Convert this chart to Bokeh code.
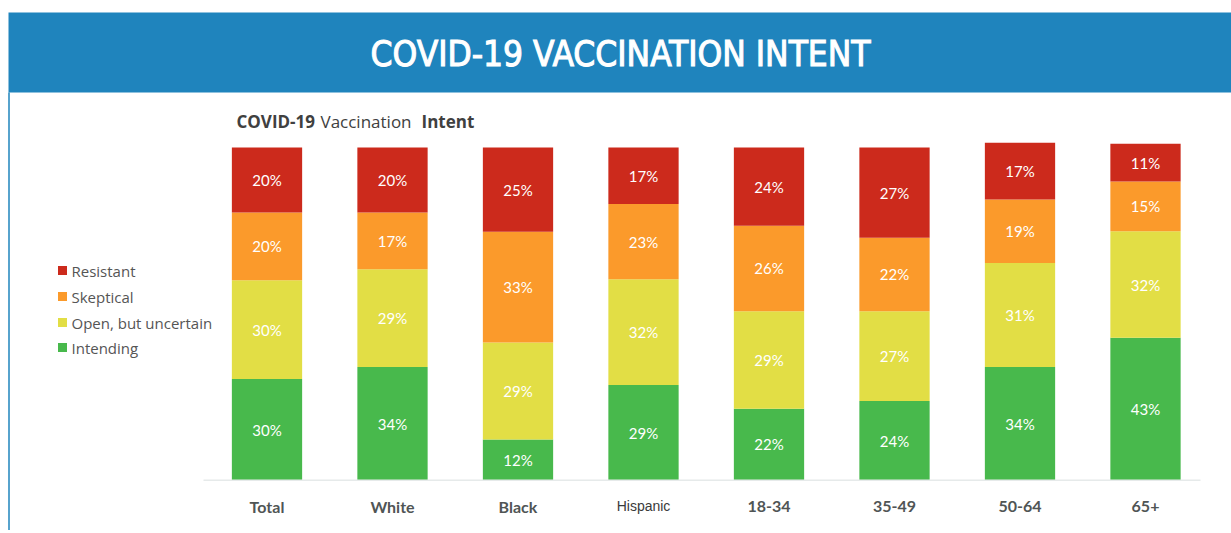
from bokeh.plotting import figure
from bokeh.models import ColumnDataSource, Range1d
from bokeh.core.properties import value
from bokeh.embed import file_html
from bokeh.resources import INLINE

# ---------------- data (percent; labels are rounded) ----------------
categories = ["Total", "White", "Black", "Hispanic", "18-34", "35-49", "50-64", "65+"]
intending = [30.4, 34.0, 12.2, 28.6, 21.5, 23.8, 34.0, 42.8]
open_uncertain = [29.7, 29.4, 29.2, 31.8, 29.3, 27.0, 31.3, 32.0]
skeptical = [20.4, 17.1, 33.3, 22.6, 25.7, 22.1, 19.1, 15.0]
resistant = [19.5, 19.5, 25.3, 17.0, 23.5, 27.1, 17.0, 11.3]
series_names = ["Intending", "Open, but uncertain", "Skeptical", "Resistant"]
banner_title = "COVID-19 VACCINATION INTENT"
subtitle_parts = ["COVID-19", "Vaccination", "Intent"]

# ---------------- styles ----------------
series_colors = ["#48b94c", "#e2de45", "#fb9a2b", "#cc2a1c"]
label_styles = ["bold", "bold", "bold", "normal", "bold", "bold", "bold", "bold"]
BLUE = "#1f84bd"
W, H = 1231, 530
OFF = 0             # canvas offset on the page
STEP = 125.5        # px between category centers
X0 = 266.5          # page px of first category center
BASE = 479.7        # page px of value 0
PPU = 3.327         # px per percent


def X(px):
    return (px - X0) / STEP


def Y(py):
    return (BASE - py) / PPU


p = figure(width=W, height=H, output_backend="svg", toolbar_location=None,
           x_range=Range1d(X(OFF), X(OFF + W)), y_range=Range1d(Y(OFF + H), Y(OFF)),
           x_axis_location=None, y_axis_location=None, min_border=0,
           outline_line_color=None, background_fill_color="white",
           border_fill_color="white")
p.xgrid.visible = False
p.ygrid.visible = False

# banner
p.quad(left=[X(8)], right=[X(1240)], top=[Y(12)], bottom=[Y(92)],
       color=BLUE, line_color=None)
p.text(x=[X(620)], y=[Y(53)], text=[banner_title], text_color="white",
       text_outline_color="white",
       text_font=value("DejaVu Sans Condensed"),
       text_font_size="35px", text_font_style="normal",
       text_align="center", text_baseline="middle")
p.segment(x0=[X(8.5)], y0=[Y(92)], x1=[X(8.5)], y1=[Y(540)], line_color=BLUE, line_width=1.5)

# subtitle
sub_x = [236, 320, 421]
sub_style = ["bold", "normal", "bold"]
for t, sx, st in zip(subtitle_parts, sub_x, sub_style):
    p.text(x=[X(sx)], y=[Y(121)], text=[t], text_color="#404040",
           text_font=value("Open Sans"), text_font_size="17px", text_font_style=st,
           text_align="left", text_baseline="middle")

# stacked bars
xs = list(range(len(categories)))
stack_keys = ["intending", "open_uncertain", "skeptical", "resistant"]
src = ColumnDataSource(dict(x=xs, intending=intending, open_uncertain=open_uncertain,
                            skeptical=skeptical, resistant=resistant))
p.vbar_stack(stack_keys, x="x", width=0.56, color=series_colors, line_color=None, source=src)

# segment labels
series_vals = [intending, open_uncertain, skeptical, resistant]
lx, ly, lt = [], [], []
for i in xs:
    cum = 0
    for vals in series_vals:
        v = vals[i]
        lx.append(i)
        ly.append(cum + v / 2)
        lt.append(f"{int(v + 0.5)}%")
        cum += v
p.text(x=lx, y=ly, text=lt, text_color="white", text_font=value("Lato"),
       text_font_size="15px", text_align="center", text_baseline="middle")

# baseline axis line
p.segment(x0=[X(203)], y0=[0], x1=[X(1200)], y1=[0], line_color="#e6eaea", line_width=1.5)

# category labels
for i, (c, st) in enumerate(zip(categories, label_styles)):
    if st == "bold":
        p.text(x=[i], y=[Y(506)], text=[c], text_color="#505555", text_font=value("Lato"),
               text_font_size="16px", text_font_style="bold",
               text_align="center", text_baseline="middle")
    else:
        p.text(x=[i], y=[Y(505)], text=[c], text_color="#3a3a3a",
               text_font=value("Liberation Sans"), text_font_size="14px",
               text_align="center", text_baseline="middle")

# legend (top to bottom: Resistant .. Intending)
leg_y = [270, 296, 322, 347]
for k, yy in enumerate(leg_y):
    idx = len(series_names) - 1 - k
    p.rect(x=[X(62)], y=[Y(yy)], width=9, height=9, width_units="screen",
           height_units="screen", color=series_colors[idx], line_color=None)
    p.text(x=[X(71)], y=[Y(yy)], text=[series_names[idx]], text_color="#555555",
           text_font=value("Open Sans"), text_font_size="15px",
           text_align="left", text_baseline="middle")

open("out.html", "w").write(file_html(p, INLINE))
